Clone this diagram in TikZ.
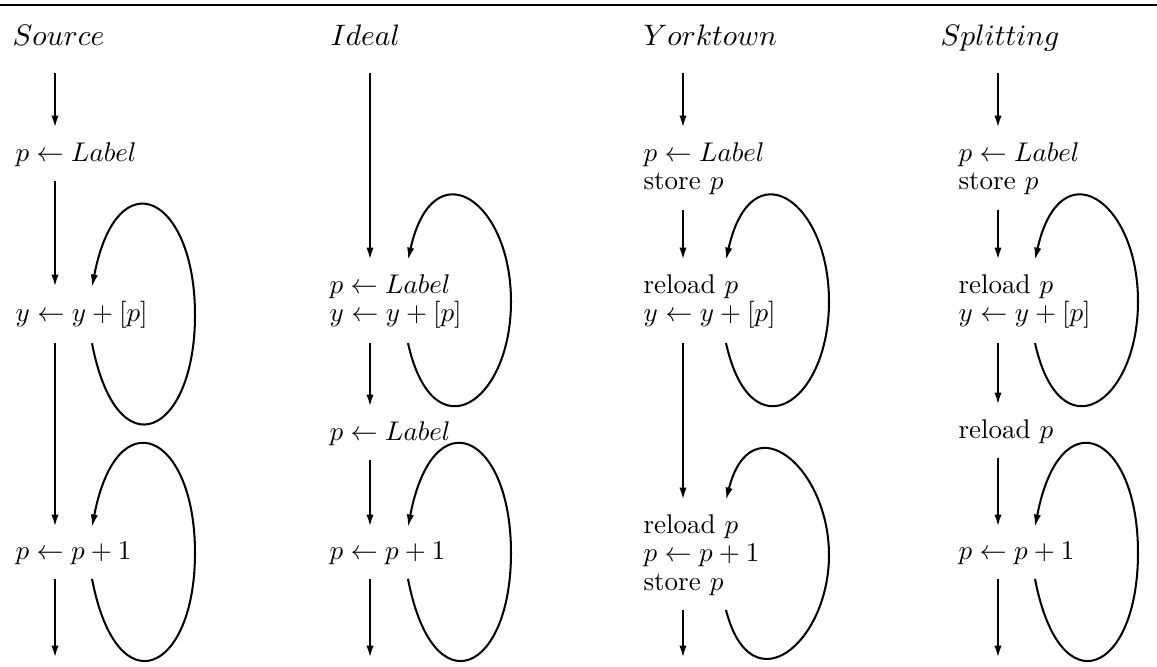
\documentclass[tikz,border=0pt]{standalone}
\usepackage{amsmath}
\usepackage{tikz}
\usetikzlibrary{arrows.meta,calc}

\begin{document}
\begin{tikzpicture}[
  x=0.37pt, y=-0.37pt,
  stmt/.style={anchor=north west, align=left, inner xsep=0pt, inner ysep=5.2pt, font=\fontsize{10}{10.5}\selectfont},
  head/.style={anchor=base west, inner sep=0pt, font=\fontsize{11}{13}\selectfont},
  arr/.style={-{Latex[length=4.6pt,width=2.7pt]}, line width=0.85pt},
  selfloop/.style={-{Latex[length=4.6pt,width=2.7pt]}, line width=0.75pt,
    to path={.. controls +(25,#1) and +(0,#1-10) .. ($(\tikztostart)!.5!(\tikztotarget)+(103,0)$) .. controls +(0,10-#1) and +(25,-#1) .. (\tikztotarget)}},
  selfloop/.default=130
]
  \useasboundingbox (0,0) rectangle (1157,666);
  \draw[line width=1.1pt] (0,5) -- (1157,5);

  \coordinate (srcx) at (55,0);    \coordinate (srcl) at (92,0);
  \coordinate (idex) at (370,0);   \coordinate (idel) at (408,0);
  \coordinate (yorkx) at (683,0);  \coordinate (yorkl) at (726,0);
  \coordinate (splitx) at (998,0); \coordinate (splitl) at (1035,0);

  \node[head] (tsrc) at (12,45) {$Source$};
  \node[head] (tide) at (330,45) {$Ideal$};
  \node[head] (tyork) at (643,45) {$Yorktown$};
  \node[head] (tsplit) at (940,45) {$Splitting$};

  % Source
  \coordinate (src-in) at (55,73);
  \node[stmt] (src1) at (15,128) {$p \leftarrow Label$};
  \node[stmt] (src2) at (15,287) {$y \leftarrow y+[p]$};
  \node[stmt] (src3) at (15,527) {$p \leftarrow p+1$};
  \coordinate (src-out) at (55,658);

  \draw[arr] (src-in) -- (src1.north -| srcx);
  \draw[arr] (src1.south -| srcx) -- (src2.north -| srcx);
  \draw[arr] (src2.south -| srcx) -- (src3.north -| srcx);
  \draw[arr] (src3.south -| srcx) -- (src-out);
  \draw[selfloop] (src2.south -| srcl) to (src2.north -| srcl);
  \draw[selfloop] (src3.south -| srcl) to (src3.north -| srcl);

  % Ideal
  \coordinate (ide-in) at (370,73);
  \node[stmt] (ide1) at (329,260) {$p \leftarrow Label$\\$y \leftarrow y+[p]$};
  \node[stmt] (ide2) at (329,407) {$p \leftarrow Label$};
  \node[stmt] (ide3) at (329,527) {$p \leftarrow p+1$};
  \coordinate (ide-out) at (370,658);

  \draw[arr] (ide-in) -- (ide1.north -| idex);
  \draw[arr] (ide1.south -| idex) -- (ide2.north -| idex);
  \draw[arr] (ide2.south -| idex) -- (ide3.north -| idex);
  \draw[arr] (ide3.south -| idex) -- (ide-out);
  \draw[selfloop=112] (ide1.south -| idel) to (ide1.north -| idel);
  \draw[selfloop] (ide3.south -| idel) to (ide3.north -| idel);

  % Yorktown
  \coordinate (york-in) at (683,73);
  \node[stmt] (york1) at (643,128) {$p \leftarrow Label$\\store $p$};
  \node[stmt] (york2) at (643,260) {reload $p$\\$y \leftarrow y+[p]$};
  \node[stmt] (york3) at (643,500) {reload $p$\\$p \leftarrow p+1$\\store $p$};
  \coordinate (york-out) at (683,658);

  \draw[arr] (york-in) -- (york1.north -| yorkx);
  \draw[arr] (york1.south -| yorkx) -- (york2.north -| yorkx);
  \draw[arr] (york2.south -| yorkx) -- (york3.north -| yorkx);
  \draw[arr] (york3.south -| yorkx) -- (york-out);
  \draw[selfloop=112] (york2.south -| yorkl) to (york2.north -| yorkl);
  \draw[selfloop=98] (york3.south -| yorkl) to (york3.north -| yorkl);

  % Splitting
  \coordinate (split-in) at (998,73);
  \node[stmt] (split1) at (958,128) {$p \leftarrow Label$\\store $p$};
  \node[stmt] (split2) at (958,260) {reload $p$\\$y \leftarrow y+[p]$};
  \node[stmt] (split3) at (958,405) {reload $p$};
  \node[stmt] (split4) at (958,527) {$p \leftarrow p+1$};
  \coordinate (split-out) at (998,658);

  \draw[arr] (split-in) -- (split1.north -| splitx);
  \draw[arr] (split1.south -| splitx) -- (split2.north -| splitx);
  \draw[arr] (split2.south -| splitx) -- (split3.north -| splitx);
  \draw[arr] (split3.south -| splitx) -- (split4.north -| splitx);
  \draw[arr] (split4.south -| splitx) -- (split-out);
  \draw[selfloop=112] (split2.south -| splitl) to (split2.north -| splitl);
  \draw[selfloop] (split4.south -| splitl) to (split4.north -| splitl);
\end{tikzpicture}
\end{document}
